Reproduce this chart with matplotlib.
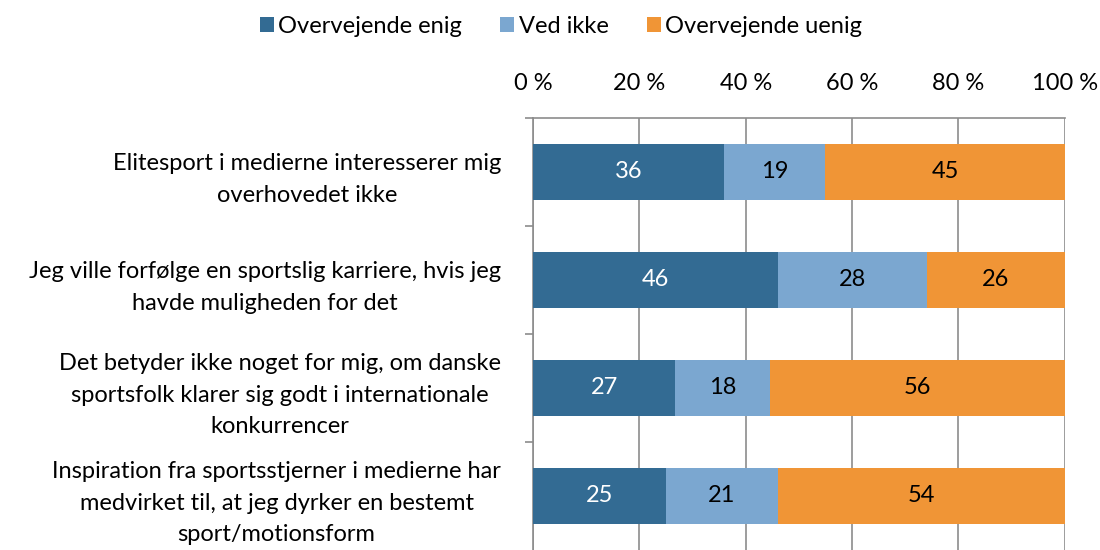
import matplotlib.pyplot as plt
import numpy as np

plt.rcParams["font.family"] = ["Lato", "DejaVu Sans"]

categories = [
    "Elitesport i medierne interesserer mig\noverhovedet ikke",
    "Jeg ville forfølge en sportslig karriere, hvis jeg\nhavde muligheden for det",
    "Det betyder ikke noget for mig, om danske\nsportsfolk klarer sig godt i internationale\nkonkurrencer",
    "Inspiration fra sportsstjerner i medierne har\nmedvirket til, at jeg dyrker en bestemt\nsport/motionsform",
]
series_names = ["Overvejende enig", "Ved ikke", "Overvejende uenig"]
enig = [36, 46, 27, 25]
ved_ikke = [19, 28, 18, 21]
uenig = [45, 26, 56, 54]
xtick_labels = ["0 %", "20 %", "40 %", "60 %", "80 %", "100 %"]

colors = ["#336B93", "#7BA7D0", "#F09536"]
text_colors = ["white", "black", "black"]
fs = 17

data = np.array([enig, ved_ikke, uenig], dtype=float)
shares = data / data.sum(axis=0) * 100

fig = plt.figure(figsize=(11, 5.5), dpi=100)
ax = fig.add_axes([0.4845, 0.0, 0.4835, 0.7855])

y = np.arange(len(categories))
left = np.zeros(len(categories))
for i, name in enumerate(series_names):
    bars = ax.barh(y, shares[i], left=left, height=0.51, color=colors[i],
                   label=name, zorder=3)
    for j, b in enumerate(bars):
        ax.text(left[j] + shares[i][j] / 2, y[j], f"{int(data[i][j])}",
                ha="center", va="center", fontsize=fs, color=text_colors[i],
                zorder=4)
    left += shares[i]

ax.set_xlim(0, 100)
ax.set_ylim(len(categories) - 0.5, -0.5)
ax.xaxis.tick_top()
ax.set_xticks(np.arange(0, 101, 20))
ax.set_xticklabels(xtick_labels, fontsize=fs)
ax.tick_params(axis="x", length=0, pad=17)
ax.grid(axis="x", color="#8C8C8C", linewidth=1.2, zorder=0)

ax.set_yticks(np.arange(-0.5, len(categories) - 0.5, 1))
ax.set_yticklabels([])
ax.set_yticks(y, minor=True)
ax.set_yticklabels(categories, minor=True, fontsize=fs, multialignment="center",
                   linespacing=1.62)
ax.tick_params(axis="y", which="major", length=6, color="#8C8C8C", width=1.2)
ax.tick_params(axis="y", which="minor", length=0, pad=23)

for s in ["right", "bottom"]:
    ax.spines[s].set_visible(False)
for s in ["left", "top"]:
    ax.spines[s].set_color("#8C8C8C")
    ax.spines[s].set_linewidth(1.2)

fig.legend(loc="upper center", bbox_to_anchor=(0.51, 1.01), ncol=3,
           frameon=False, fontsize=fs, handlelength=0.6, handleheight=0.6,
           handletextpad=0.2, columnspacing=1.6)

fig.savefig("out.png", facecolor="white")
